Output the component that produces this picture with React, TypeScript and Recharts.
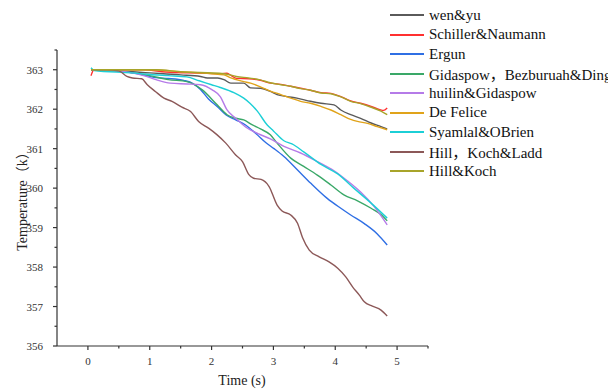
import React from 'react';
import { LineChart, Line, XAxis, YAxis } from 'recharts';

const wenYu = [[0.05,363.0],[0.5,362.97],[1.0,362.92],[1.5,362.87],[1.82,362.83],[1.93,362.79],[2.1,362.79],[2.2,362.75],[2.31,362.66],[2.52,362.66],[2.63,362.54],[2.79,362.53],[2.95,362.45],[3.06,362.37],[3.22,362.32],[3.38,362.28],[3.6,362.2],[3.77,362.15],[3.98,362.11],[4.09,361.98],[4.25,361.86],[4.41,361.77],[4.58,361.65],[4.74,361.56],[4.84,361.5]];
const schiller = [[0.05,362.85],[0.1,363.0],[0.9,363.0],[1.2,362.95],[1.6,362.92],[2.15,362.9],[2.25,362.91],[2.32,362.85],[2.4,362.78],[2.6,362.77],[2.77,362.74],[2.95,362.66],[3.12,362.63],[3.28,362.58],[3.44,362.53],[3.6,362.48],[3.77,362.42],[3.93,362.4],[4.09,362.32],[4.25,362.21],[4.41,362.15],[4.58,362.07],[4.72,361.99],[4.78,361.97],[4.84,362.03]];
const ergun = [[0.05,363.0],[0.5,362.97],[0.8,362.9],[1.1,362.8],[1.3,362.78],[1.55,362.73],[1.7,362.65],[1.82,362.5],[1.95,362.26],[2.09,362.07],[2.23,361.86],[2.39,361.73],[2.55,361.6],[2.72,361.38],[2.88,361.15],[3.01,361.0],[3.17,360.8],[3.39,360.46],[3.6,360.13],[3.87,359.74],[4.09,359.49],[4.25,359.32],[4.47,359.1],[4.68,358.84],[4.84,358.56]];
const gidaspow = [[0.05,363.0],[0.5,362.97],[0.8,362.9],[1.0,362.85],[1.3,362.75],[1.6,362.7],[1.85,362.49],[2.09,362.11],[2.25,361.86],[2.39,361.77],[2.52,361.73],[2.66,361.6],[2.79,361.5],[2.95,361.35],[3.06,361.14],[3.28,360.76],[3.49,360.55],[3.71,360.33],[3.93,360.08],[4.14,359.83],[4.36,359.68],[4.58,359.49],[4.74,359.33],[4.84,359.17]];
const huilin = [[0.05,363.0],[0.5,362.97],[0.9,362.85],[1.1,362.75],[1.33,362.66],[1.6,362.64],[1.82,362.62],[2.01,362.49],[2.14,362.32],[2.25,361.98],[2.39,361.77],[2.55,361.55],[2.75,361.38],[2.95,361.25],[3.17,361.06],[3.44,360.89],[3.71,360.67],[3.98,360.44],[4.2,360.18],[4.41,359.9],[4.63,359.53],[4.84,359.07]];
const deFelice = [[0.05,363.0],[1.0,363.0],[1.5,362.95],[2.0,362.9],[2.2,362.87],[2.3,362.8],[2.52,362.7],[2.63,362.66],[2.77,362.58],[2.95,362.46],[3.12,362.37],[3.28,362.28],[3.44,362.2],[3.6,362.15],[3.77,362.07],[3.93,361.98],[4.09,361.86],[4.25,361.74],[4.36,361.69],[4.52,361.64],[4.68,361.56],[4.84,361.48]];
const syamlal = [[0.05,363.05],[0.1,362.98],[0.7,362.92],[1.0,362.88],[1.3,362.85],[1.6,362.82],[1.8,362.72],[2.0,362.62],[2.14,362.55],[2.36,362.42],[2.52,362.28],[2.62,362.15],[2.74,361.95],[2.9,361.6],[3.0,361.45],[3.17,361.2],[3.3,361.12],[3.49,360.92],[3.77,360.6],[4.04,360.36],[4.3,360.0],[4.58,359.62],[4.84,359.24]];
const hillKochLadd = [[0.05,363.0],[0.3,363.0],[0.5,362.97],[0.63,362.83],[0.72,362.79],[0.87,362.77],[0.96,362.62],[1.09,362.45],[1.23,362.28],[1.36,362.2],[1.52,362.05],[1.66,361.94],[1.79,361.69],[1.95,361.52],[2.09,361.35],[2.23,361.14],[2.39,360.84],[2.5,360.67],[2.6,360.35],[2.68,360.25],[2.8,360.22],[2.93,360.04],[3.06,359.57],[3.14,359.42],[3.28,359.32],[3.39,359.11],[3.47,358.75],[3.58,358.43],[3.74,358.26],[3.9,358.13],[4.04,357.97],[4.17,357.75],[4.28,357.5],[4.39,357.29],[4.47,357.12],[4.6,357.01],[4.74,356.91],[4.84,356.76]];
const hillKoch = [[0.05,363.0],[1.1,363.0],[1.5,362.95],[2.2,362.9],[2.4,362.83],[2.6,362.79],[2.77,362.75],[2.95,362.67],[3.12,362.62],[3.28,362.58],[3.44,362.52],[3.6,362.48],[3.77,362.41],[3.93,362.39],[4.09,362.31],[4.25,362.2],[4.41,362.14],[4.58,362.05],[4.74,361.95],[4.84,361.86]];

const seriesNames = ['wen&yu', 'Schiller&Naumann', 'Ergun', 'Gidaspow，Bezburuah&Ding', 'huilin&Gidaspow', 'De Felice', 'Syamlal&OBrien', 'Hill，Koch&Ladd', 'Hill&Koch'];
const seriesColors = ['#5a5a5a', '#ff3030', '#2f6fe4', '#3aa868', '#b57be8', '#e0a31a', '#1ccfd6', '#8c5858', '#a8a42a'];
const seriesData = [wenYu, schiller, ergun, gidaspow, huilin, deFelice, syamlal, hillKochLadd, hillKoch];

const xTicks = [0, 0.5, 1, 1.5, 2, 2.5, 3, 3.5, 4, 4.5, 5, 5.5];
const yTicks = [356, 356.5, 357, 357.5, 358, 358.5, 359, 359.5, 360, 360.5, 361, 361.5, 362, 362.5, 363, 363.5];

const xTitle = 'Time (s)';
const yTitle = 'Temperature（k）';

const FONT = '"Liberation Serif", "Noto Sans CJK SC", serif';
const AXIS = '#333';

const isMajor = (v: number) => Math.abs(v - Math.round(v)) < 1e-6;

const YTick = (props: any) => {
  const { x, y, payload } = props;
  const v = payload.value;
  const major = isMajor(v);
  const axisX = x + 5 + 9;
  return (
    <g>
      <line x1={axisX - (major ? 4 : 2.5)} x2={axisX} y1={y} y2={y} stroke={AXIS} strokeWidth={1.2} />
      {major && (
        <text x={x} y={y} dy={4} textAnchor="end" style={{ fontFamily: FONT, fontSize: 11 }} fill={AXIS}>{v}</text>
      )}
    </g>
  );
};

const XTick = (props: any) => {
  const { x, y, payload } = props;
  const v = payload.value;
  const major = isMajor(v);
  const axisY = y - 4 - 7;
  return (
    <g>
      <line x1={x} x2={x} y1={axisY} y2={axisY + (major ? 4 : 2.5)} stroke={AXIS} strokeWidth={1.2} />
      {major && (
        <text x={x} y={y} dy="0.71em" textAnchor="middle" style={{ fontFamily: FONT, fontSize: 11 }} fill={AXIS}>{v}</text>
      )}
    </g>
  );
};

export default function App() {
  const W = 600;
  const H = 382;
  return (
    <div style={{ position: 'relative', width: W, height: H, background: '#fff' }}>
      <LineChart width={W} height={H} margin={{ top: 42, right: 180, left: 0, bottom: 0 }}>
        <XAxis
          type="number"
          dataKey="t"
          domain={[-0.5, 5.5]}
          ticks={xTicks}
          interval={0}
          allowDataOverflow
          height={44}
          tickSize={4}
          tickMargin={7}
          tickLine={false}
          axisLine={{ stroke: AXIS, strokeWidth: 1.2 }}
          tick={<XTick />}
        />
        <YAxis
          type="number"
          dataKey="v"
          domain={[356, 363.5]}
          ticks={yTicks}
          interval={0}
          allowDataOverflow
          width={49}
          tickSize={5}
          tickMargin={9}
          tickLine={false}
          axisLine={{ stroke: AXIS, strokeWidth: 1.2 }}
          tick={<YTick />}
        />
        {seriesData.map((d, i) => (
          <Line
            key={seriesNames[i]}
            data={d.map(([t, v]) => ({ t, v }))}
            dataKey="v"
            name={seriesNames[i]}
            type="monotone"
            stroke={seriesColors[i]}
            strokeWidth={1.4}
            dot={false}
            activeDot={false}
            isAnimationActive={false}
          />
        ))}
      </LineChart>
      <div style={{ position: 'absolute', left: 234, top: 373, transform: 'translate(-50%, -50%)', fontFamily: FONT, fontSize: 14, color: '#222', whiteSpace: 'nowrap' }}>{xTitle}</div>
      <div style={{ position: 'absolute', left: 13, top: 190, transform: 'translate(-50%, -50%) rotate(-90deg)', fontFamily: FONT, fontSize: 14, color: '#222', whiteSpace: 'nowrap' }}>{yTitle}</div>
      {seriesNames.map((name, i) => (
        <div key={name} style={{ position: 'absolute', left: 382, top: 7 + i * 19.5 - 10, height: 20, display: 'flex', alignItems: 'center', whiteSpace: 'nowrap' }}>
          <div style={{ width: 34, height: 2, background: seriesColors[i] }} />
          <span style={{ marginLeft: 5, fontFamily: FONT, fontSize: 15, color: '#111' }}>{name}</span>
        </div>
      ))}
    </div>
  );
}
